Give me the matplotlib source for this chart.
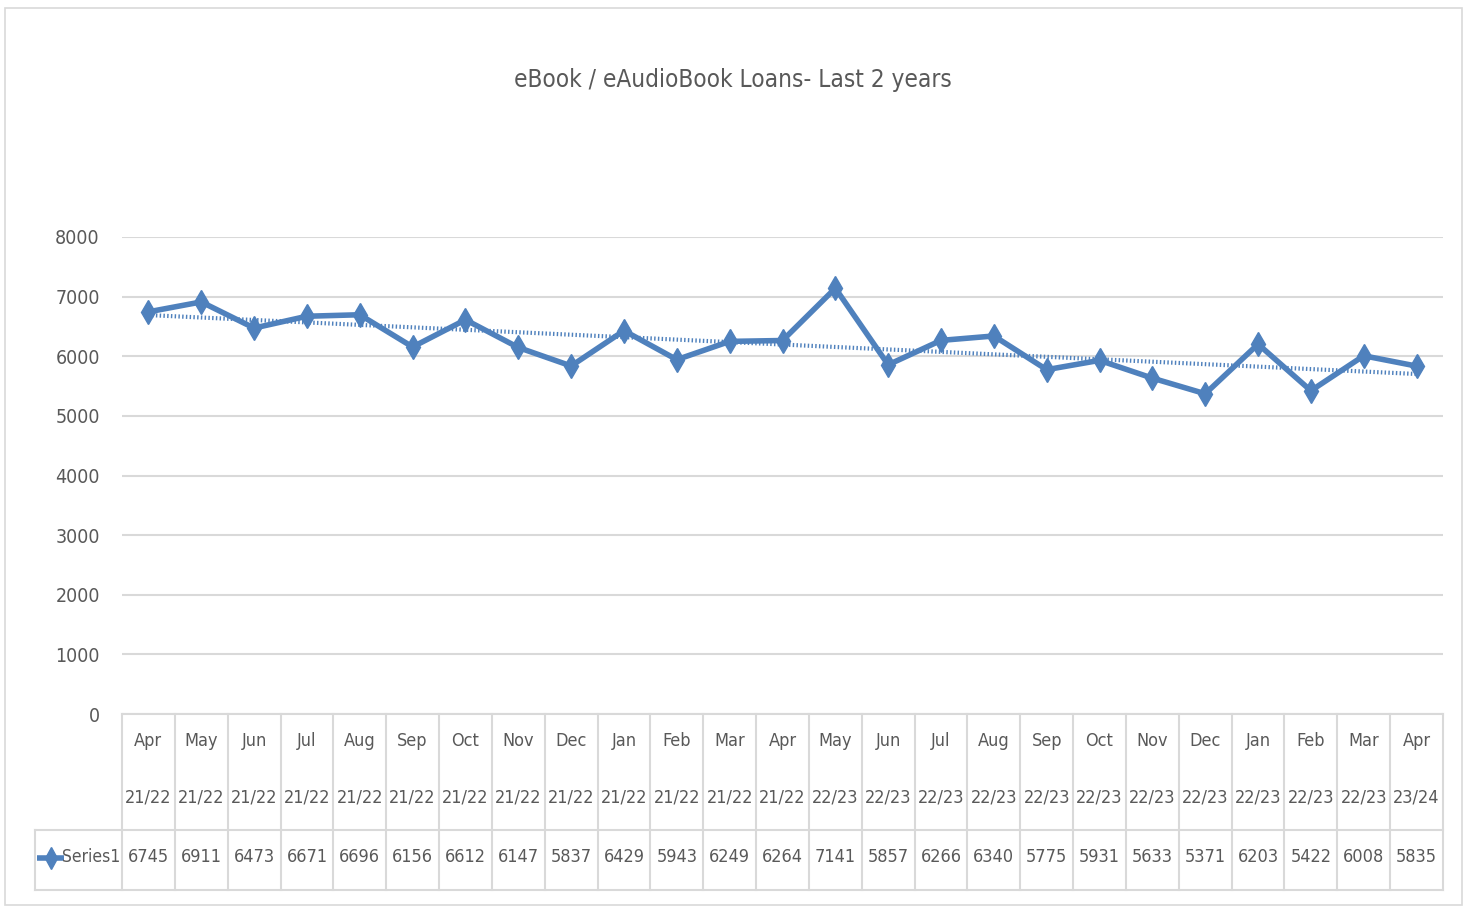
import matplotlib.pyplot as plt
import numpy as np

plt.rcParams['font.family'] = ['DejaVu Sans']
plt.rcParams['font.stretch'] = 'condensed'

# data
months = ["Apr", "May", "Jun", "Jul", "Aug", "Sep", "Oct", "Nov", "Dec", "Jan", "Feb", "Mar",
          "Apr", "May", "Jun", "Jul", "Aug", "Sep", "Oct", "Nov", "Dec", "Jan", "Feb", "Mar", "Apr"]
years = ["21/22"] * 13 + ["22/23"] * 11 + ["23/24"]
loans = [6745, 6911, 6473, 6671, 6696, 6156, 6612, 6147, 5837, 6429, 5943, 6249,
         6264, 7141, 5857, 6266, 6340, 5775, 5931, 5633, 5371, 6203, 5422, 6008, 5835]
yticks = [0, 1000, 2000, 3000, 4000, 5000, 6000, 7000, 8000]

blue = "#4F81BD"
grid = "#D9D9D9"
txt = "#595959"
fs = 13

W, H = 1467, 908
fig = plt.figure(figsize=(W / 100, H / 100), dpi=100)

# outer chart border
fig.patches.append(plt.Rectangle((5 / W, 1 - 905 / H), 1457 / W, 897 / H, transform=fig.transFigure,
                                 fill=False, edgecolor=grid, linewidth=1.2))

ax = fig.add_axes([122 / W, 1 - 714 / H, (1443 - 122) / W, (714 - 237) / H])
x = np.arange(len(loans))
ax.set_xlim(-0.5, len(loans) - 0.5)
ax.set_ylim(0, 8000)
for s in ax.spines.values():
    s.set_visible(False)
ax.set_yticks(yticks)
ax.set_yticklabels([str(v) for v in yticks], fontsize=fs + 1, color=txt)
ax.tick_params(axis='y', length=0, pad=16)
ax.set_xticks([])
ax.grid(axis='y', color=grid, linewidth=1.5)
ax.set_axisbelow(True)

# linear trend line
k, b = np.polyfit(x, loans, 1)
ax.plot(x, k * x + b, color=blue, linewidth=3, linestyle=(0, (0.35, 0.55)), zorder=2)
ax.plot(x, loans, color=blue, linewidth=4, marker='d', markersize=12, zorder=3)

ax.text((733 - 122) / 1321, 1 + (237 - 80) / 477, "eBook / eAudioBook Loans- Last 2 years",
        transform=ax.transAxes, ha='center', va='center', fontsize=17.5, color=txt)

# data table below the plot
tab = fig.add_axes([122 / W, 1 - 890 / H, (1443 - 122) / W, (890 - 714) / H])
tab.set_xlim(-0.5, len(loans) - 0.5)
tab.set_ylim(0, 1)
tab.axis('off')
ymid = (890 - 830) / 176
left = -0.5 - 87 / 52.83
kw = dict(color=grid, linewidth=1.5, clip_on=False)
tab.plot([-0.5, len(loans) - 0.5], [1, 1], **kw)
tab.plot([left, len(loans) - 0.5], [ymid, ymid], **kw)
tab.plot([left, len(loans) - 0.5], [0, 0], **kw)
tab.plot([left, left], [0, ymid], **kw)
for i in range(len(loans) + 1):
    tab.plot([i - 0.5, i - 0.5], [0, 1], **kw)
for i in range(len(loans)):
    tab.text(i, (890 - 741) / 176, months[i], ha='center', va='center', fontsize=fs, color=txt)
    tab.text(i, (890 - 797) / 176, years[i], ha='center', va='center', fontsize=fs, color=txt)
    tab.text(i, (890 - 857) / 176, str(loans[i]), ha='center', va='center', fontsize=fs, color=txt)
yk = (890 - 858) / 176
tab.plot([left + 0.04, left + 0.55], [yk, yk], color=blue, linewidth=4,
         clip_on=False, solid_capstyle='butt')
tab.plot([left + 0.3], [yk], color=blue, marker='d', markersize=11, clip_on=False)
tab.text(-0.53, (890 - 857) / 176, "Series1", ha='right', va='center', fontsize=12.5, color=txt)

fig.savefig("out.png", dpi=100)
